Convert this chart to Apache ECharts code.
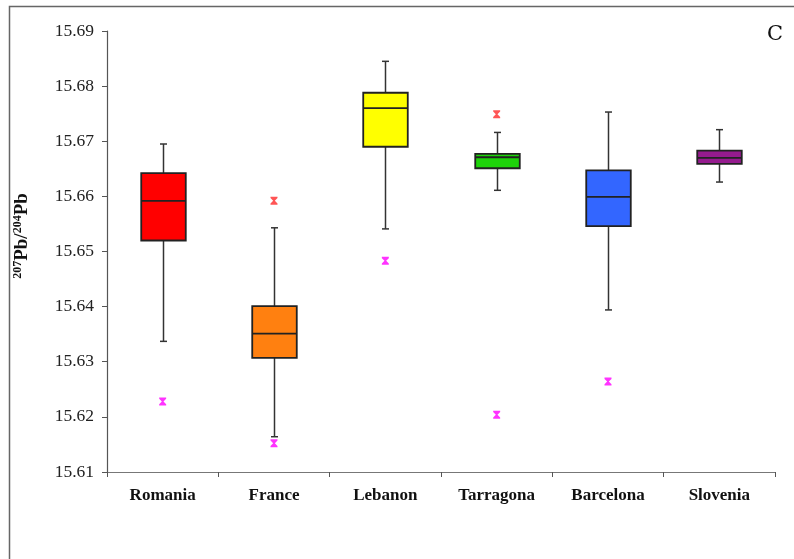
<!DOCTYPE html>
<html>
<head>
<meta charset="utf-8">
<script src="https://cdn.jsdelivr.net/npm/echarts@6/dist/echarts.min.js"></script>
<style>html,body{margin:0;padding:0;background:#fff}#c{width:794px;height:559px}</style>
</head>
<body>
<div id="c"></div>
<script>
const categories = ['Romania', 'France', 'Lebanon', 'Tarragona', 'Barcelona', 'Slovenia'];
const whiskerLow  = [15.6337, 15.6164, 15.6541, 15.6611, 15.6394, 15.6626];
const quartile1   = [15.6520, 15.6307, 15.6690, 15.6651, 15.6546, 15.6659];
const medians     = [15.6592, 15.6351, 15.6760, 15.6671, 15.6599, 15.6670];
const quartile3   = [15.6642, 15.6401, 15.6788, 15.6677, 15.6647, 15.6683];
const whiskerHigh = [15.6695, 15.6543, 15.6845, 15.6716, 15.6753, 15.6721];
const highOutliers = [['France', 15.6592], ['Tarragona', 15.6749]];
const lowOutliers  = [['Romania', 15.6228], ['France', 15.6152], ['Lebanon', 15.6483], ['Tarragona', 15.6204], ['Barcelona', 15.6264]];
const yTicks = [15.61, 15.62, 15.63, 15.64, 15.65, 15.66, 15.67, 15.68, 15.69];

const boxColors = ['#ff0000', '#ff8010', '#ffff00', '#1ed40a', '#3366ff', '#951b8e'];

const boxData = categories.map((c, i) => [i, whiskerLow[i], quartile1[i], medians[i], quartile3[i], whiskerHigh[i]]);

function renderBox(params, api) {
  const idx = api.value(0);
  const pLo = api.coord([idx, api.value(1)]);
  const pQ1 = api.coord([idx, api.value(2)]);
  const pMed = api.coord([idx, api.value(3)]);
  const pQ3 = api.coord([idx, api.value(4)]);
  const pHi = api.coord([idx, api.value(5)]);
  const bw = api.size([1, 0])[0] * 0.4;
  const cx = Math.round(pLo[0]) + 0.5;
  const cap = 3.5;
  const lineStyle = { stroke: '#333', lineWidth: 1.5 };
  return {
    type: 'group',
    children: [
      { type: 'line', shape: { x1: cx, y1: pLo[1], x2: cx, y2: pQ1[1] }, style: lineStyle },
      { type: 'line', shape: { x1: cx, y1: pQ3[1], x2: cx, y2: pHi[1] }, style: lineStyle },
      { type: 'line', shape: { x1: cx - cap, y1: pLo[1], x2: cx + cap, y2: pLo[1] }, style: lineStyle },
      { type: 'line', shape: { x1: cx - cap, y1: pHi[1], x2: cx + cap, y2: pHi[1] }, style: lineStyle },
      { type: 'rect', shape: { x: cx - bw / 2, y: pQ3[1], width: bw, height: pQ1[1] - pQ3[1] },
        style: { fill: boxColors[idx], stroke: '#222', lineWidth: 1.8 } },
      { type: 'line', shape: { x1: cx - bw / 2, y1: pMed[1], x2: cx + bw / 2, y2: pMed[1] },
        style: { stroke: '#222', lineWidth: 1.8 } }
    ]
  };
}

const outlierSymbol = 'path://M0,0L10,0L10,1.6L6.2,5L10,8.4L10,10L0,10L0,8.4L3.8,5L0,1.6Z';

const chart = echarts.init(document.getElementById('c'), null, { renderer: 'canvas' });
chart.setOption({
  animation: false,
  backgroundColor: '#fff',
  grid: { left: 107, right: 19, top: 31, bottom: 87 },
  xAxis: {
    type: 'category',
    data: categories,
    boundaryGap: true,
    axisLine: { lineStyle: { color: '#777', width: 1.2 } },
    axisTick: { show: true, length: 5, lineStyle: { color: '#555' } },
    axisLabel: { color: '#111', fontFamily: 'Liberation Serif', fontWeight: 'bold', fontSize: 17, margin: 15 },
    splitLine: { show: false }
  },
  yAxis: {
    type: 'value',
    min: yTicks[0],
    max: yTicks[yTicks.length - 1],
    interval: 0.01,
    axisLine: { show: true, lineStyle: { color: '#555', width: 1.2 } },
    axisTick: { show: true, length: 5, lineStyle: { color: '#555' } },
    axisLabel: { color: '#222', fontFamily: 'Liberation Serif', fontSize: 17.5, margin: 13,
      formatter: v => v.toFixed(2) },
    splitLine: { show: false }
  },
  graphic: [
    { type: 'rect', shape: { x: 9.5, y: 6.5, width: 900, height: 700 },
      style: { fill: 'none', stroke: '#666', lineWidth: 1.5 }, silent: true },
    { type: 'text', x: 775, y: 35,
      style: { text: 'C', fill: '#111', font: '21px "DejaVu Serif"', textAlign: 'center', textVerticalAlign: 'middle' } },
    { type: 'text', x: 22, y: 236, rotation: Math.PI / 2,
      style: {
        text: '{s|207}{b|Pb/}{s|204}{b|Pb}',
        textAlign: 'center', textVerticalAlign: 'middle', fill: '#111',
        rich: {
          s: { fontFamily: 'Liberation Serif', fontWeight: 'bold', fontSize: 12, verticalAlign: 'top', lineHeight: 20 },
          b: { fontFamily: 'Liberation Serif', fontWeight: 'bold', fontSize: 19, lineHeight: 20 }
        }
      } }
  ],
  series: [
    { type: 'custom', renderItem: renderBox, data: boxData, encode: { x: 0, y: [1, 2, 3, 4, 5] }, z: 2 },
    { type: 'scatter', data: highOutliers, symbol: outlierSymbol, symbolSize: [7, 8],
      itemStyle: { color: '#ff2a2a' }, z: 3 },
    { type: 'scatter', data: lowOutliers, symbol: outlierSymbol, symbolSize: [7, 8],
      itemStyle: { color: '#ff00ff' }, z: 3 }
  ]
});
</script>
</body>
</html>
